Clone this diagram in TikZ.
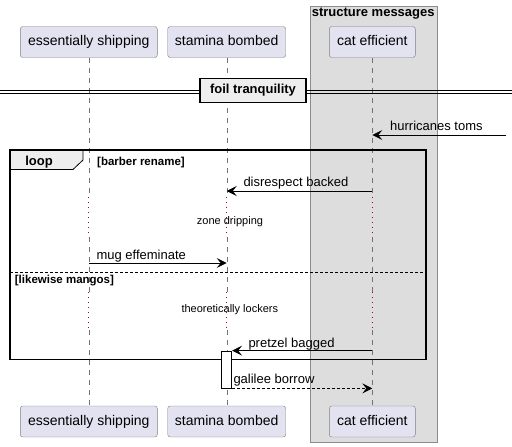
\documentclass[tikz,border=0pt]{standalone}
\usepackage{fontspec}
\setmainfont{Liberation Sans}
\usetikzlibrary{positioning,arrows.meta}
\definecolor{partfill}{RGB}{226,226,240}
\definecolor{boxfill}{RGB}{221,221,221}
\definecolor{tabfill}{RGB}{238,238,238}
\definecolor{delayred}{RGB}{168,0,54}

\begin{document}
\begin{tikzpicture}[
  x=1pt, y=-1pt,
  node distance=10pt and 10pt,
  part/.style={draw=black!50,fill=partfill,rounded corners=2.5pt,minimum height=31pt,inner xsep=0pt,font=\fontsize{14}{16}\selectfont,text height=10pt,text depth=3pt},
  life/.style={black!55,dash pattern=on 5pt off 5pt},
  delay/.style={delayred,dash pattern=on 1pt off 4pt,line width=0.8pt},
  msg/.style={line width=0.9pt,-{Stealth[length=10pt,width=10pt,inset=4pt]}},
  lbl/.style={font=\fontsize{13}{15}\selectfont,inner sep=0pt,anchor=base west},
  note/.style={font=\fontsize{11}{13}\selectfont,inner sep=0pt,anchor=base},
  guard/.style={font=\bfseries\fontsize{11.5}{13}\selectfont,inner sep=0pt,anchor=base west}
]
\useasboundingbox (0,0) rectangle (512,447);

% group box
\draw[draw=black!45,fill=boxfill] (309.7,6) rectangle (436.7,441.7);
\node[inner sep=0pt,anchor=base,font=\bfseries\fontsize{13}{15}\selectfont] (grp) at (373.2,16.5) {structure messages};

% participants
\node[part,minimum width=137pt] (es) at (88.8,42) {essentially shipping};
\node[part,minimum width=118pt,right=10pt of es] (sb) {stamina bombed};
\node[part,minimum width=86pt] (ce) at (372.3,42) {cat efficient};
\node[part,minimum width=137pt] (es2) at (88.8,421.5) {essentially shipping};
\node[part,minimum width=118pt] (sb2) at (sb |- es2) {stamina bombed};
\node[part,minimum width=86pt] (ce2) at (ce |- es2) {cat efficient};

% lifelines with delays
\coordinate (d1) at (0,197);
\coordinate (d2) at (0,237);
\coordinate (d3) at (0,292);
\coordinate (d4) at (0,330);
\foreach \p in {es,sb,ce} {
  \draw[life] (\p.south) -- (\p.south |- d1);
  \draw[delay] (\p.south |- d1) -- (\p.south |- d2);
  \draw[life] (\p.south |- d2) -- (\p.south |- d3);
  \draw[delay] (\p.south |- d3) -- (\p.south |- d4);
  \draw[life] (\p.south |- d4) -- (\p2.north);
}

% divider
\draw[line width=0.8pt] (0,90) -- (512,90) (0,93.3) -- (512,93.3);
\node[draw,line width=1.6pt,fill=tabfill,minimum width=106pt,minimum height=24pt,inner sep=0pt,font=\bfseries\fontsize{13}{15}\selectfont] (div) at (253,90.3) {foil tranquility};

% incoming message
\coordinate (in) at (506,135);
\draw[msg] (in) -- (ce |- in);
\node[lbl] (l1) at (390,130.5) {hurricanes toms};

% loop frame
\draw[fill=tabfill,line width=0.8pt] (10,150) -- (83,150) -- (83,160) -- (73,169.5) -- (10,169.5) -- cycle;
\draw[line width=1.5pt] (10,150) rectangle (426,359.3);
\node[inner sep=0pt,anchor=base,font=\bfseries\fontsize{13}{15}\selectfont] (lp) at (39,165) {loop};
\node[guard] (g1) at (97,165) {[barber rename]};
\draw[line width=0.7pt,dash pattern=on 3pt off 2pt] (10,272) -- (426,272);
\node[guard] (g2) at (14.7,283.3) {[likewise mangos]};

% messages
\coordinate (m2) at (0,191);
\coordinate (m3) at (0,263);
\draw[msg] (ce |- m2) -- (sb |- m2);
\node[lbl] (l2) at (243.3,186.5) {disrespect backed};
\node[note] (n1) at (230,224) {zone dripping};
\draw[msg] (es |- m3) -- (sb |- m3);
\node[lbl] (l3) at (96.3,259) {mug effeminate};
\node[note] (n2) at (229.8,312) {theoretically lockers};

% activation
\node[draw,fill=white,line width=0.8pt,minimum width=10pt,minimum height=37pt,inner sep=0pt] (act) at (226.7,369.5) {};
\draw[msg] (ce |- act.north) -- (act.north east);
\node[lbl] (l4) at (248.3,347) {pretzel bagged};
\draw[msg,dash pattern=on 3pt off 2pt] (act.south east) -- (ce |- act.south);
\node[lbl] (l5) at (233.3,383.5) {galilee borrow};
\end{tikzpicture}
\end{document}
